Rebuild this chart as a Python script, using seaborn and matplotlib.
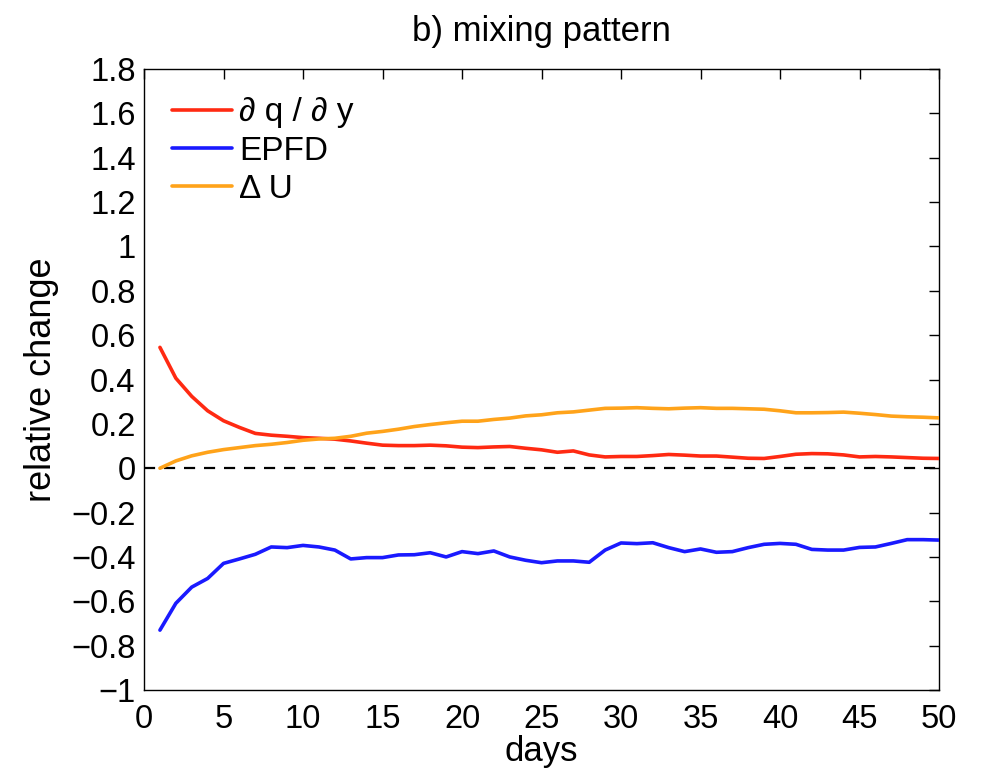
import numpy as np
import pandas as pd
import matplotlib
matplotlib.use("Agg")
import matplotlib.pyplot as plt
import seaborn as sns
from matplotlib.ticker import FuncFormatter

days = list(range(1, 51))

dqdy = [0.545, 0.406, 0.324, 0.259, 0.214, 0.184, 0.157, 0.149, 0.144, 0.138,
        0.135, 0.131, 0.123, 0.113, 0.104, 0.102, 0.102, 0.104, 0.101, 0.095,
        0.093, 0.096, 0.098, 0.090, 0.083, 0.072, 0.078, 0.060, 0.051, 0.053,
        0.053, 0.057, 0.062, 0.059, 0.055, 0.055, 0.050, 0.045, 0.044, 0.053,
        0.063, 0.066, 0.065, 0.060, 0.051, 0.053, 0.051, 0.048, 0.045, 0.044]

epfd = [-0.730, -0.609, -0.536, -0.497, -0.429, -0.409, -0.388, -0.355, -0.358, -0.348,
        -0.355, -0.369, -0.409, -0.403, -0.403, -0.391, -0.390, -0.381, -0.400, -0.376,
        -0.385, -0.373, -0.400, -0.415, -0.426, -0.418, -0.418, -0.424, -0.369, -0.337,
        -0.340, -0.336, -0.358, -0.376, -0.364, -0.379, -0.376, -0.358, -0.343, -0.339,
        -0.343, -0.366, -0.369, -0.369, -0.357, -0.355, -0.339, -0.322, -0.322, -0.324]

du = [0.000, 0.033, 0.056, 0.072, 0.084, 0.093, 0.102, 0.108, 0.116, 0.126,
      0.132, 0.135, 0.144, 0.158, 0.166, 0.176, 0.188, 0.197, 0.205, 0.212,
      0.212, 0.220, 0.226, 0.236, 0.241, 0.250, 0.254, 0.262, 0.270, 0.271,
      0.273, 0.270, 0.268, 0.271, 0.273, 0.270, 0.270, 0.268, 0.266, 0.259,
      0.250, 0.250, 0.251, 0.253, 0.248, 0.242, 0.235, 0.232, 0.230, 0.227]

series_names = ["\u2202 q / \u2202 y", "EPFD", "\u0394 U"]
colors = ["#ff2a12", "#1a1aff", "#ffa31a"]

x_ticks = list(range(0, 51, 5))
y_ticks = [round(v, 1) for v in np.arange(-1.0, 1.81, 0.2)]

df = pd.DataFrame({
    "days": days * 3,
    "value": dqdy + epfd + du,
    "series": [series_names[0]] * 50 + [series_names[1]] * 50 + [series_names[2]] * 50,
})

sns.set_style("white")
plt.rcParams["font.family"] = ["Liberation Sans", "DejaVu Sans"]
plt.rcParams["axes.unicode_minus"] = True
plt.rcParams["text.color"] = "black"
plt.rcParams["axes.labelcolor"] = "black"

fig = plt.figure(figsize=(9.9, 7.72), dpi=100)
ax = fig.add_axes([0.1455, 0.1062, 0.803, 0.8044])

ax.axhline(0, color="black", lw=1.6, ls=(0, (5, 4)), zorder=1)
sns.lineplot(data=df, x="days", y="value", hue="series", hue_order=series_names,
             palette=colors, lw=2.6, ax=ax, zorder=3)

ax.set_xlim(0, 50)
ax.set_ylim(-1, 1.8)
ax.set_xticks(x_ticks)
ax.set_yticks(y_ticks)

def fmt(v, pos):
    s = f"{v:.1f}".rstrip("0").rstrip(".")
    if s in ("-0", "0.0"):
        s = "0"
    return s.replace("-", "\u2212")

ax.yaxis.set_major_formatter(FuncFormatter(fmt))
ax.tick_params(direction="in", length=7, width=1, labelsize=23.5, top=True, right=True,
               colors="black", labelcolor="black")
ax.tick_params(axis="x", pad=10)
ax.tick_params(axis="y", pad=6)
for sp in ax.spines.values():
    sp.set_visible(True)
    sp.set_color("black")
    sp.set_linewidth(1)

ax.set_xlabel("days", fontsize=25, labelpad=0, color="black")
ax.set_ylabel("relative change", fontsize=26, labelpad=9, color="black")
ax.set_title("b) mixing pattern", fontsize=25, pad=20, color="black")

leg = ax.legend(loc="upper left", frameon=False, fontsize=24, handlelength=1.8,
                handletextpad=0.2, labelspacing=0.22, borderaxespad=0.55,
                borderpad=0.3)
for line in leg.get_lines():
    line.set_linewidth(2.6)
for t in leg.get_texts():
    t.set_color("black")

fig.savefig("out.png", dpi=100)
